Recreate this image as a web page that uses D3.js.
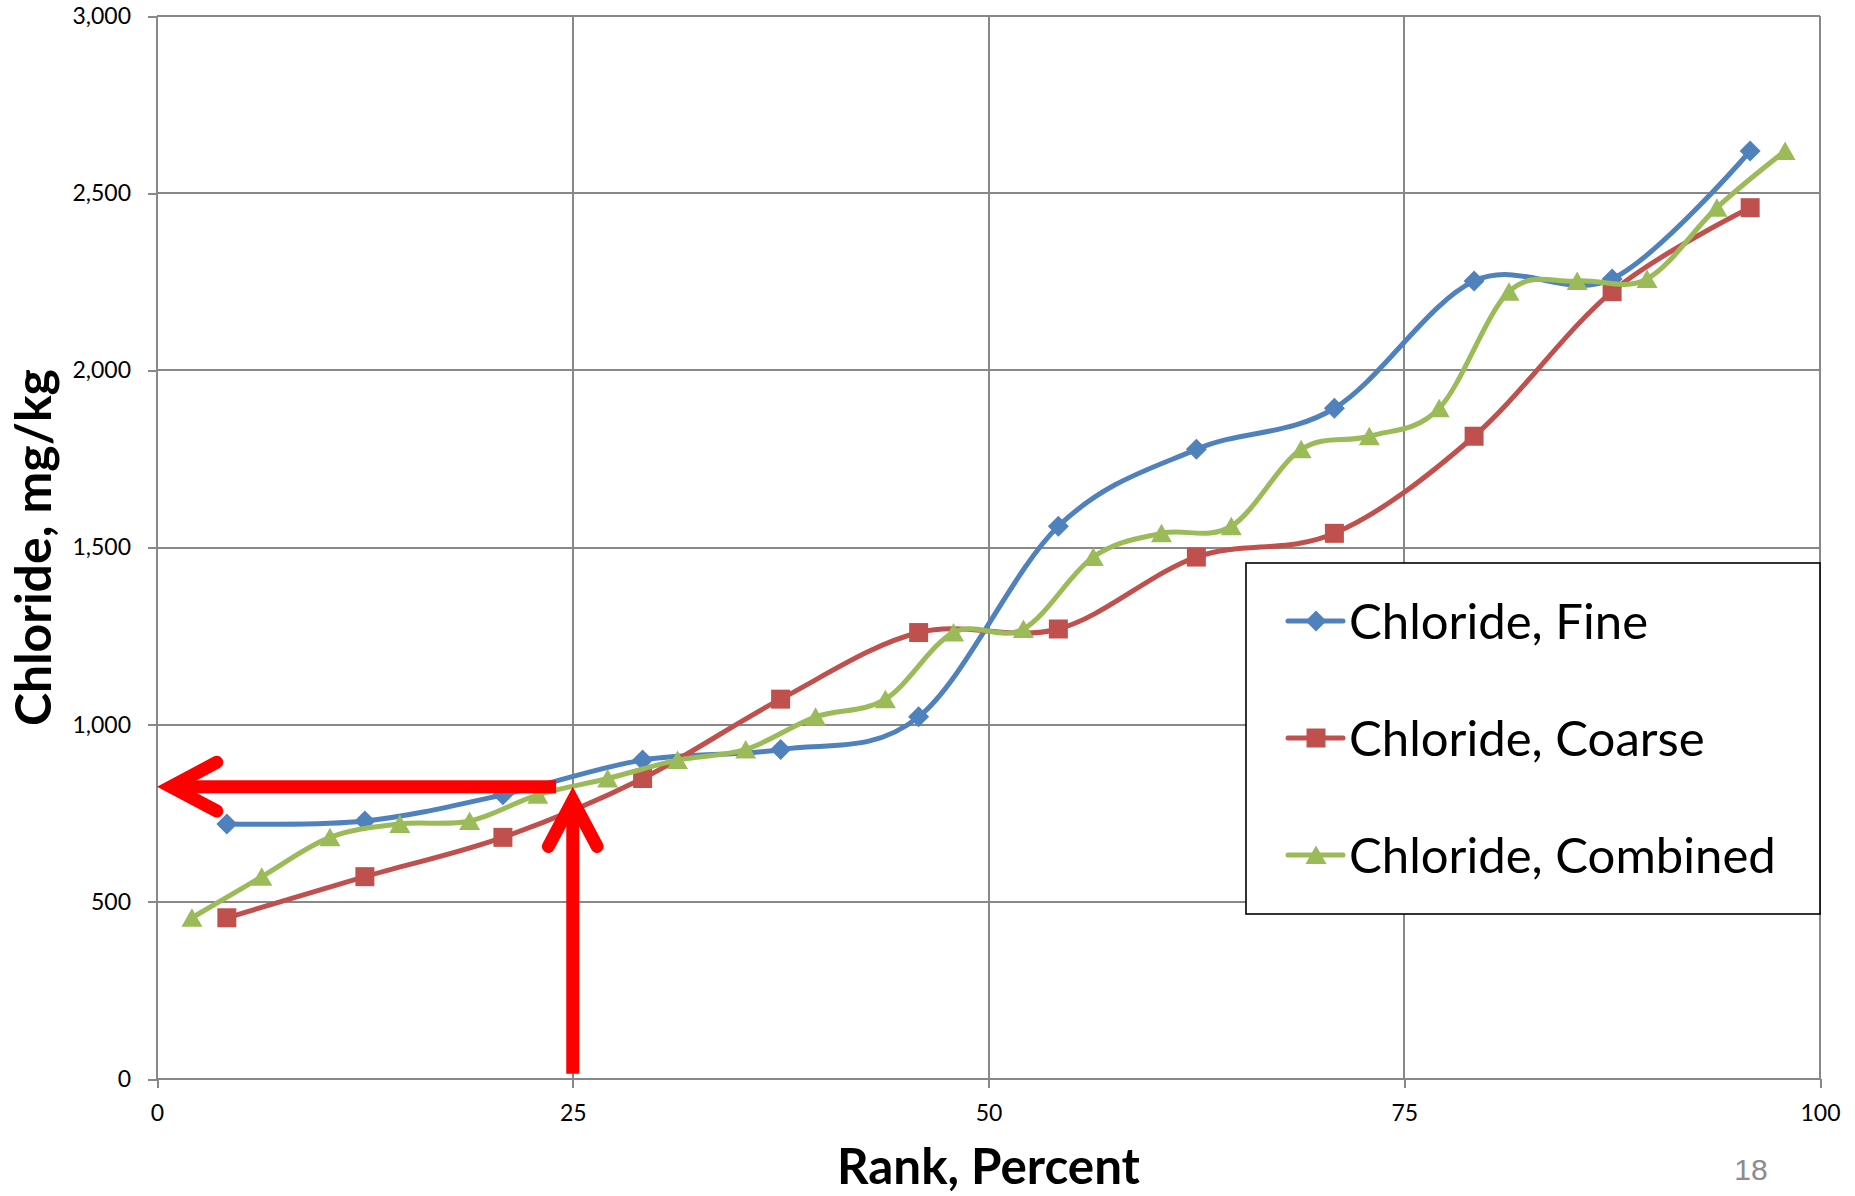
<!DOCTYPE html>
<html>
<head>
<meta charset="utf-8">
<script src="https://cdn.jsdelivr.net/npm/d3@7"></script>
<style>
  html, body { margin: 0; padding: 0; background: #ffffff; }
  svg { display: block; }
</style>
</head>
<body>
<svg id="chart" width="1855" height="1196"></svg>
<script>
// ---- data -------------------------------------------------------------
// Percent rank of each sample within its fraction
const rankFine = [4.2, 12.5, 20.8, 29.2, 37.5, 45.8, 54.2, 62.5, 70.8, 79.2, 87.5, 95.8];
const rankCoarse = [4.2, 12.5, 20.8, 29.2, 37.5, 45.8, 54.2, 62.5, 70.8, 79.2, 87.5, 95.8];
const rankCombined = [2.1, 6.3, 10.4, 14.6, 18.8, 22.9, 27.1, 31.3, 35.4, 39.6, 43.8, 47.9,
                      52.1, 56.3, 60.4, 64.6, 68.8, 72.9, 77.1, 81.3, 85.4, 89.6, 93.8, 97.9];

// Chloride concentration, mg/kg
const chlorideFine = [720, 728, 802, 900, 930, 1022, 1560, 1777, 1893, 2252, 2258, 2619];
const chlorideCoarse = [455, 571, 682, 848, 1072, 1260, 1270, 1473, 1540, 1814, 2222, 2459];
const chlorideCombined = [455, 571, 682, 720, 728, 802, 848, 900, 930, 1022, 1072, 1260,
                          1270, 1473, 1540, 1560, 1777, 1814, 1893, 2222, 2252, 2258, 2459, 2619];

const seriesNames = ["Chloride, Fine", "Chloride, Coarse", "Chloride, Combined"];
const xTicks = [0, 25, 50, 75, 100];
const yTicks = [0, 500, 1000, 1500, 2000, 2500, 3000];
const xTitle = "Rank, Percent";
const yTitle = "Chloride, mg/kg";
const pageNumber = "18";

// 25th-percentile read-off marked by the red arrows
const readRank = 25;
const readValue = 825;
const readArrowStartRank = 24;
const readArrowBaseValue = 15;

// ---- styling ----------------------------------------------------------
const seriesColors = ["#4F81BD", "#C0504D", "#9BBB59"];
const seriesSymbols = ["diamond", "square", "triangle"];
const font = "Lato, 'Noto Sans', sans-serif";
const gridColor = "#888888";
const seriesWidth = 5;

// ---- layout -----------------------------------------------------------
const svg = d3.select("#chart");
const plot = { left: 157, right: 1820, top: 16, bottom: 1079 };

const x = d3.scaleLinear().domain([0, 100]).range([plot.left, plot.right]);
const y = d3.scaleLinear().domain([0, 3000]).range([plot.bottom, plot.top]);

svg.append("rect").attr("width", 1855).attr("height", 1196).attr("fill", "#ffffff");

// gridlines
const grid = svg.append("g").attr("class", "grid")
  .attr("stroke", gridColor).attr("stroke-width", 2).attr("shape-rendering", "crispEdges");
grid.selectAll("line.h").data(yTicks).join("line").attr("class", "h")
  .attr("x1", plot.left).attr("x2", plot.right)
  .attr("y1", d => y(d)).attr("y2", d => y(d));
grid.selectAll("line.v").data(xTicks).join("line").attr("class", "v")
  .attr("x1", d => x(d)).attr("x2", d => x(d))
  .attr("y1", plot.top).attr("y2", plot.bottom);

// axes (tick marks + labels)
const xAxis = svg.append("g")
  .attr("transform", `translate(0,${plot.bottom})`)
  .call(d3.axisBottom(x).tickValues(xTicks).tickSize(9).tickPadding(17).tickFormat(d3.format("d")));
const yAxis = svg.append("g")
  .attr("transform", `translate(${plot.left},0)`)
  .call(d3.axisLeft(y).tickValues(yTicks).tickSize(9).tickPadding(17).tickFormat(d3.format(",")));
[xAxis, yAxis].forEach(ax => {
  ax.select(".domain").remove();
  ax.selectAll(".tick line").attr("stroke", gridColor).attr("stroke-width", 2)
    .attr("shape-rendering", "crispEdges");
  ax.selectAll(".tick text").attr("fill", "#000").attr("font-family", font)
    .attr("font-size", 23);
});

// ---- series -----------------------------------------------------------
const series = [
  { name: seriesNames[0], ranks: rankFine, values: chlorideFine },
  { name: seriesNames[1], ranks: rankCoarse, values: chlorideCoarse },
  { name: seriesNames[2], ranks: rankCombined, values: chlorideCombined }
].map((s, i) => ({
  ...s,
  color: seriesColors[i],
  symbol: seriesSymbols[i],
  points: s.ranks.map((r, j) => ({ rank: r, value: s.values[j] }))
}));

function markerPath(kind) {
  if (kind === "diamond") return "M0,-10.5L10.5,0L0,10.5L-10.5,0Z";
  if (kind === "square") return "M-9.5,-9.5H9.5V9.5H-9.5Z";
  return "M0,-9.5L10.5,9L-10.5,9Z";
}

const line = d3.line()
  .x(d => x(d.rank))
  .y(d => y(d.value))
  .curve(d3.curveCardinal.tension(0));

series.forEach(s => {
  const g = svg.append("g").attr("class", "series");
  g.append("path").attr("d", line(s.points))
    .attr("fill", "none").attr("stroke", s.color).attr("stroke-width", seriesWidth)
    .attr("stroke-linejoin", "round").attr("stroke-linecap", "round");
  g.selectAll("path.marker").data(s.points).join("path").attr("class", "marker")
    .attr("d", markerPath(s.symbol))
    .attr("transform", d => `translate(${x(d.rank)},${y(d.value)})`)
    .attr("fill", s.color);
});

// ---- read-off arrows ----------------------------------------------------
const arrowWidth = 13, headLen = 52, headAngle = 28 * Math.PI / 180;
function drawArrow(x1, y1, x2, y2) {
  const dx = x2 - x1, dy = y2 - y1, L = Math.hypot(dx, dy);
  const ux = dx / L, uy = dy / L;
  // pull the joint back so the mitred point lands on the target
  const back = (arrowWidth / 2) / Math.sin(headAngle);
  const tx = x2 - ux * back, ty = y2 - uy * back;
  const rot = a => [-(ux * Math.cos(a) - uy * Math.sin(a)), -(ux * Math.sin(a) + uy * Math.cos(a))];
  const [ax, ay] = rot(headAngle), [bx, by] = rot(-headAngle);
  const g = svg.append("g").attr("class", "arrow");
  g.append("line").attr("x1", x1).attr("y1", y1).attr("x2", tx).attr("y2", ty)
    .attr("stroke", "#ff0000").attr("stroke-width", arrowWidth).attr("stroke-linecap", "butt");
  g.append("path")
    .attr("d", `M${tx + ax * headLen},${ty + ay * headLen}L${tx},${ty}L${tx + bx * headLen},${ty + by * headLen}`)
    .attr("fill", "none").attr("stroke", "#ff0000").attr("stroke-width", arrowWidth)
    .attr("stroke-linejoin", "miter").attr("stroke-miterlimit", 10).attr("stroke-linecap", "round");
}
drawArrow(x(readArrowStartRank), y(readValue), x(0), y(readValue));
drawArrow(x(readRank), y(readArrowBaseValue), x(readRank), y(readValue));

// ---- legend -------------------------------------------------------------
const legend = svg.append("g").attr("class", "legend");
legend.append("rect")
  .attr("x", 1246).attr("y", 563).attr("width", 574).attr("height", 351)
  .attr("fill", "#ffffff").attr("stroke", "#000000").attr("stroke-width", 1.6);
const rows = legend.selectAll("g.row").data(series).join("g").attr("class", "row")
  .attr("transform", (d, i) => `translate(0,${621 + i * 117})`);
rows.append("line").attr("x1", 1288).attr("x2", 1343).attr("y1", 0).attr("y2", 0)
  .attr("stroke", d => d.color).attr("stroke-width", seriesWidth).attr("stroke-linecap", "round");
rows.append("path").attr("d", d => markerPath(d.symbol))
  .attr("transform", "translate(1316,0)").attr("fill", d => d.color);
const legendText = rows.append("text").attr("x", 1349).attr("y", 0)
  .attr("font-family", font).attr("font-size", 49).attr("fill", "#000")
  .text(d => d.name);

// ---- titles -------------------------------------------------------------
const xt = svg.append("text")
  .attr("x", (plot.left + plot.right) / 2).attr("y", 1184)
  .attr("text-anchor", "middle").attr("font-family", font).attr("font-weight", 700)
  .attr("font-size", 48).attr("fill", "#000").text(xTitle);
const yt = svg.append("text")
  .attr("transform", `translate(51,${(plot.top + plot.bottom) / 2}) rotate(-90)`)
  .attr("text-anchor", "middle").attr("font-family", font).attr("font-weight", 700)
  .attr("font-size", 48).attr("fill", "#000").text(yTitle);

// fit titles and legend entries to their intended widths
function fit(sel, width) {
  const node = sel.node();
  const fs = +sel.attr("font-size");
  const w = node.getComputedTextLength();
  if (w > 0) sel.attr("font-size", (fs * width / w).toFixed(2));
}
fit(xt, 303);
fit(yt, 357);
{
  const longest = legendText.filter((d, i) => i === 2);
  const fs = +longest.attr("font-size");
  const w = longest.node().getComputedTextLength();
  if (w > 0) legendText.attr("font-size", (fs * 427 / w).toFixed(2));
  legendText.attr("dy", "0.36em");
}

// slide number
svg.append("text").attr("x", 1751).attr("y", 1180).attr("text-anchor", "middle")
  .attr("font-family", "'Liberation Sans', Arial, sans-serif").attr("font-size", 30)
  .attr("fill", "#8c8c8c").text(pageNumber);
</script>
</body>
</html>
